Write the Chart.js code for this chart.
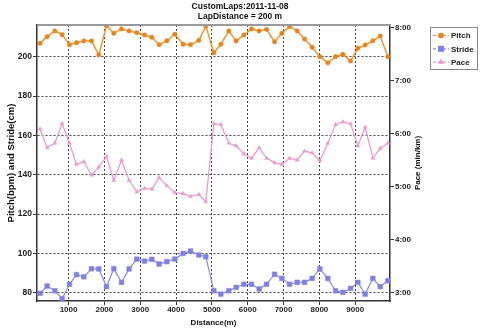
<!DOCTYPE html>
<html>
<head>
<meta charset="utf-8">
<script src="https://cdn.jsdelivr.net/npm/chart.js@4/dist/chart.umd.min.js"></script>
<style>
  html, body { margin: 0; padding: 0; background: #fff; }
  #wrap { width: 480px; height: 329px; }
</style>
</head>
<body>
<div id="wrap"><canvas id="c" width="480" height="329"></canvas></div>
<script>
// Cumulative distance at the end of each lap (m)
const distances = [207, 402, 617, 821, 1027, 1222, 1426, 1641, 1845, 2060,
  2263, 2478, 2690, 2905, 3120, 3324, 3528, 3743, 3966, 4198,
  4404, 4636, 4831, 5054, 5250, 5473, 5677, 5892, 6107, 6319,
  6525, 6749, 6952, 7167, 7379, 7586, 7798, 8013, 8236, 8451,
  8655, 8870, 9073, 9277, 9492, 9696, 9911];

// Cadence per lap (steps/min)
const pitch = [206.8, 210.2, 213.1, 211.2, 206.1, 207.1, 208.0, 208.0, 200.9, 215.8,
  211.9, 214.1, 213.1, 212.2, 211.0, 209.9, 206.1, 208.1, 211.4, 206.3,
  206.1, 208.3, 215.6, 202.0, 206.3, 213.1, 208.0, 211.0, 214.1, 213.1,
  213.9, 207.6, 211.9, 215.3, 213.1, 209.0, 204.8, 200.0, 196.9, 200.0,
  201.2, 197.8, 204.3, 205.9, 208.1, 210.5, 200.0];

// Stride length per lap (cm)
const stride = [79.7, 83.4, 81.0, 77.0, 84.3, 89.2, 88.1, 92.2, 92.1, 83.1,
  92.2, 85.3, 92.1, 97.1, 96.1, 97.0, 94.6, 95.8, 97.1, 100.0,
  101.2, 99.2, 98.3, 81.0, 79.3, 81.0, 82.7, 84.3, 84.3, 81.9,
  84.3, 89.4, 87.3, 84.3, 85.3, 85.3, 87.3, 92.1, 87.3, 81.0,
  80.2, 82.2, 85.3, 79.3, 87.3, 83.1, 86.1];

// Pace per lap (seconds per km)
const paceSec = [365, 344, 349, 371, 349, 325, 328, 313, 322, 334,
  307, 330, 307, 294, 298, 297, 310, 301, 293, 292,
  289, 291, 283, 371, 370, 349, 346, 337, 332, 344,
  332, 327, 325, 332, 330, 340, 338, 329, 349, 370,
  373, 371, 346, 367, 332, 343, 349];

const distanceTicks = [1000, 2000, 3000, 4000, 5000, 6000, 7000, 8000, 9000];
const leftTicks = [80, 100, 120, 140, 160, 180, 200];
const paceTicks = [180, 240, 300, 360, 420, 480];

const titleLines = ['CustomLaps:2011-11-08', 'LapDistance = 200 m'];
const seriesNames = ['Pitch', 'Stride', 'Pace'];
const leftTitle = 'Pitch(bpm) and Stride(cm)';
const rightTitle = 'Pace (min/km)';
const bottomTitle = 'Distance(m)';

const FONT = '"Liberation Sans", Arial, Helvetica, sans-serif';
Chart.defaults.font.family = FONT;
Chart.defaults.color = '#222';

const toPoints = vals => vals.map((v, i) => ({ x: distances[i], y: v }));
const fmtPace = s => Math.floor(s / 60) + ':' + String(Math.round(s % 60)).padStart(2, '0');

const gridColor = '#444';

// Titles, plot frame and legend box
const decorations = {
  id: 'decorations',
  afterDraw(chart) {
    const ctx = chart.ctx;
    const a = chart.chartArea;
    ctx.save();

    // top edge of the plot
    ctx.strokeStyle = '#9a9a9a';
    ctx.lineWidth = 2;
    ctx.beginPath();
    ctx.moveTo(a.left, a.top);
    ctx.lineTo(a.right, a.top);
    ctx.stroke();

    // chart title
    ctx.fillStyle = '#111';
    ctx.font = 'bold 8.5px ' + FONT;
    ctx.textAlign = 'center';
    ctx.textBaseline = 'middle';
    ctx.fillText(titleLines[0], 240, 7);
    ctx.fillText(titleLines[1], 240, 17);

    // right axis title, reading upward
    ctx.save();
    ctx.translate(418, (a.top + a.bottom) / 2);
    ctx.rotate(-Math.PI / 2);
    ctx.font = 'bold 8px ' + FONT;
    ctx.fillText(rightTitle, 0, 0);
    ctx.restore();

    // legend
    const bx = 430, by = 27, bw = 47, bh = 42;
    ctx.fillStyle = '#fff';
    ctx.fillRect(bx, by, bw, bh);
    ctx.strokeStyle = '#888';
    ctx.lineWidth = 1;
    ctx.strokeRect(bx + 0.5, by + 0.5, bw, bh);
    chart.data.datasets.forEach((ds, i) => {
      const cy = by + 8.5 + i * 13.3;
      ctx.strokeStyle = ds.borderColor;
      ctx.lineWidth = 1.2;
      ctx.setLineDash([3, 2]);
      ctx.beginPath();
      ctx.moveTo(bx + 3, cy);
      ctx.lineTo(bx + 19, cy);
      ctx.stroke();
      ctx.setLineDash([]);
      ctx.fillStyle = ds.pointBackgroundColor;
      ctx.strokeStyle = ds.pointBorderColor;
      Chart.helpers.drawPoint(ctx, {
        pointStyle: ds.pointStyle, radius: ds.pointRadius, borderWidth: 1, rotation: 0
      }, bx + 11, cy);
      ctx.fillStyle = '#222';
      ctx.font = 'bold 8px ' + FONT;
      ctx.textAlign = 'left';
      ctx.fillText(ds.label, bx + 21, cy + 0.5);
    });
    ctx.restore();
  }
};

new Chart(document.getElementById('c'), {
  type: 'line',
  data: {
    datasets: [
      {
        label: seriesNames[0], data: toPoints(pitch), yAxisID: 'y',
        borderColor: '#f0962a', backgroundColor: '#f0962a', borderWidth: 1.5,
        pointStyle: 'circle', pointRadius: 2.2,
        pointBackgroundColor: '#e8831a', pointBorderColor: '#e8831a', pointBorderWidth: 0.5,
        tension: 0
      },
      {
        label: seriesNames[1], data: toPoints(stride), yAxisID: 'y',
        borderColor: '#8a8ae6', backgroundColor: '#8a8ae6', borderWidth: 1.2,
        pointStyle: 'rect', pointRadius: 3.3,
        pointBackgroundColor: '#7f7fe6', pointBorderColor: '#7f7fe6', pointBorderWidth: 0.5,
        tension: 0
      },
      {
        label: seriesNames[2], data: toPoints(paceSec), yAxisID: 'yPace',
        borderColor: '#ea95cf', backgroundColor: '#ea95cf', borderWidth: 1.2,
        pointStyle: 'triangle', pointRadius: 2.3,
        pointBackgroundColor: '#ec9bd2', pointBorderColor: '#ec9bd2', pointBorderWidth: 0.5,
        tension: 0
      }
    ]
  },
  options: {
    responsive: false,
    animation: false,
    devicePixelRatio: 1,
    layout: { padding: { top: 25, right: 50, left: 0, bottom: 0 } },
    plugins: {
      legend: { display: false },
      title: { display: false },
      tooltip: { enabled: false }
    },
    scales: {
      x: {
        type: 'linear', position: 'bottom', min: 120, max: 9970,
        afterBuildTicks: s => { s.ticks = distanceTicks.map(v => ({ value: v })); },
        afterFit: s => { s.height = 28; },
        ticks: {
          font: { size: 8, weight: 'bold' }, color: '#222', padding: 0,
          maxRotation: 0, autoSkip: false, callback: v => String(v)
        },
        grid: { color: gridColor, lineWidth: 1, tickLength: 4, tickColor: '#333', tickBorderDash: [] },
        border: { dash: [2, 2], color: '#333', width: 1.5 },
        title: { display: true, text: bottomTitle, font: { size: 8, weight: 'bold' }, color: '#111', padding: { top: 0, bottom: 1 } }
      },
      y: {
        type: 'linear', position: 'left', min: 75.8, max: 216.1,
        afterBuildTicks: s => { s.ticks = leftTicks.map(v => ({ value: v })); },
        afterFit: s => { s.width = 37; },
        ticks: { font: { size: 8.5, weight: 'bold' }, color: '#222', padding: 1, callback: v => String(v) },
        grid: { color: gridColor, lineWidth: 1, tickLength: 4, tickColor: '#333', tickBorderDash: [] },
        border: { dash: [2, 2], color: '#333', width: 1.5 },
        title: { display: true, text: leftTitle, font: { size: 9.5, weight: 'bold' }, color: '#111', padding: { top: 6, bottom: 0 } }
      },
      yPace: {
        type: 'linear', position: 'right', min: 170.6, max: 482.6,
        afterBuildTicks: s => { s.ticks = paceTicks.map(v => ({ value: v })); },
        afterFit: s => { s.width = 40; },
        ticks: { font: { size: 8, weight: 'bold' }, color: '#222', padding: 1, callback: v => fmtPace(v) },
        grid: { drawOnChartArea: false, tickLength: 4, tickColor: '#333', tickBorderDash: [] },
        border: { color: '#333', width: 1.5 }
      }
    }
  },
  plugins: [decorations]
});
</script>
</body>
</html>
